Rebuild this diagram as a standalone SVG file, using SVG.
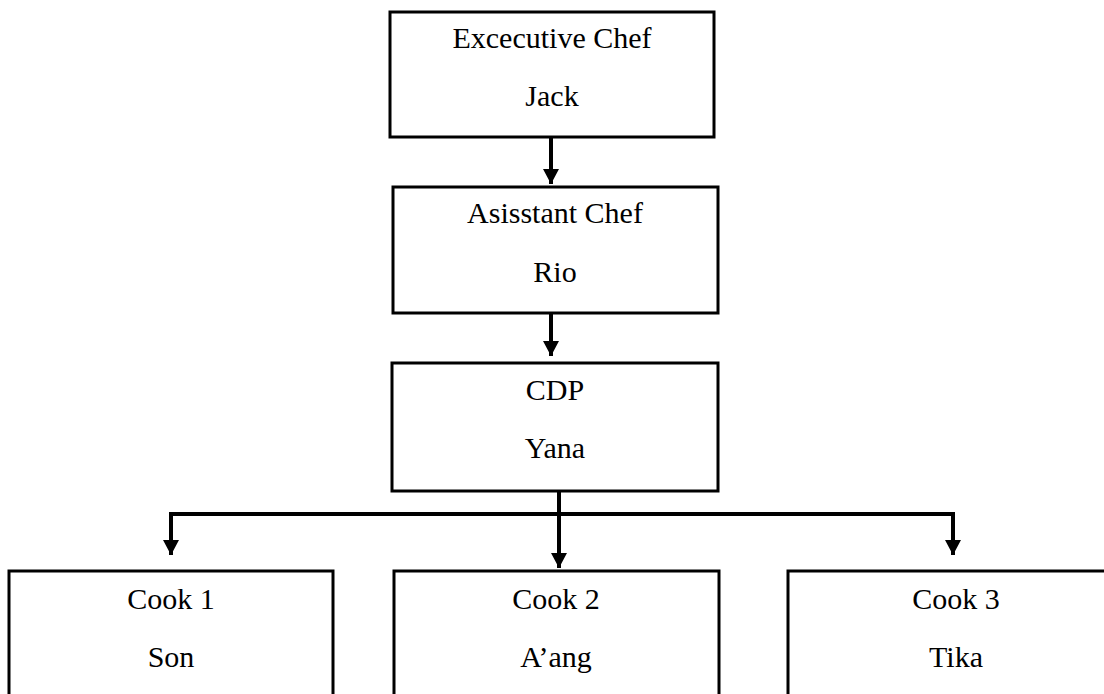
<svg xmlns="http://www.w3.org/2000/svg" width="1104" height="694" viewBox="0 0 1104 694">
<style>
.box{fill:#fff;stroke:#000;stroke-width:3}
.t{font-family:'Liberation Serif','Times New Roman','DejaVu Serif',serif;font-size:30px;fill:#000;text-anchor:middle}
.c{stroke:#000;stroke-width:4;fill:none}
</style>
<defs>
<marker id="ah" markerUnits="userSpaceOnUse" markerWidth="18" markerHeight="18" refX="15" refY="8" orient="auto">
<path d="M0,0 L15,8 L0,16 Z" fill="#000"/>
</marker>
</defs>
<rect width="1104" height="694" fill="#fff"/>
<g id="connectors">
<line class="c" x1="551" y1="138" x2="551" y2="184" marker-end="url(#ah)"/>
<line class="c" x1="551" y1="314" x2="551" y2="356" marker-end="url(#ah)"/>
<line class="c" x1="559" y1="491" x2="559" y2="568" marker-end="url(#ah)"/>
<polyline class="c" points="171,514 953,514 953,555" marker-end="url(#ah)"/>
<line class="c" x1="171" y1="512" x2="171" y2="555" marker-end="url(#ah)"/>
</g>
<g id="exec">
<rect class="box" x="390" y="12" width="324" height="125"/>
<text class="t" x="552" y="48">Excecutive Chef</text>
<text class="t" x="552" y="106">Jack</text>
</g>
<g id="assistant">
<rect class="box" x="393" y="187" width="325" height="126"/>
<text class="t" x="555" y="223">Asisstant Chef</text>
<text class="t" x="555" y="282">Rio</text>
</g>
<g id="cdp">
<rect class="box" x="392" y="363" width="326" height="128"/>
<text class="t" x="555" y="400">CDP</text>
<text class="t" x="555" y="458">Yana</text>
</g>
<g id="cook1">
<rect class="box" x="9" y="571" width="324" height="140"/>
<text class="t" x="171" y="609">Cook 1</text>
<text class="t" x="171" y="667">Son</text>
</g>
<g id="cook2">
<rect class="box" x="394" y="571" width="325" height="140"/>
<text class="t" x="556" y="609">Cook 2</text>
<text class="t" x="556" y="667">A’ang</text>
</g>
<g id="cook3">
<rect class="box" x="788" y="571" width="340" height="140"/>
<text class="t" x="956" y="609">Cook 3</text>
<text class="t" x="956" y="667">Tika</text>
</g>
</svg>
